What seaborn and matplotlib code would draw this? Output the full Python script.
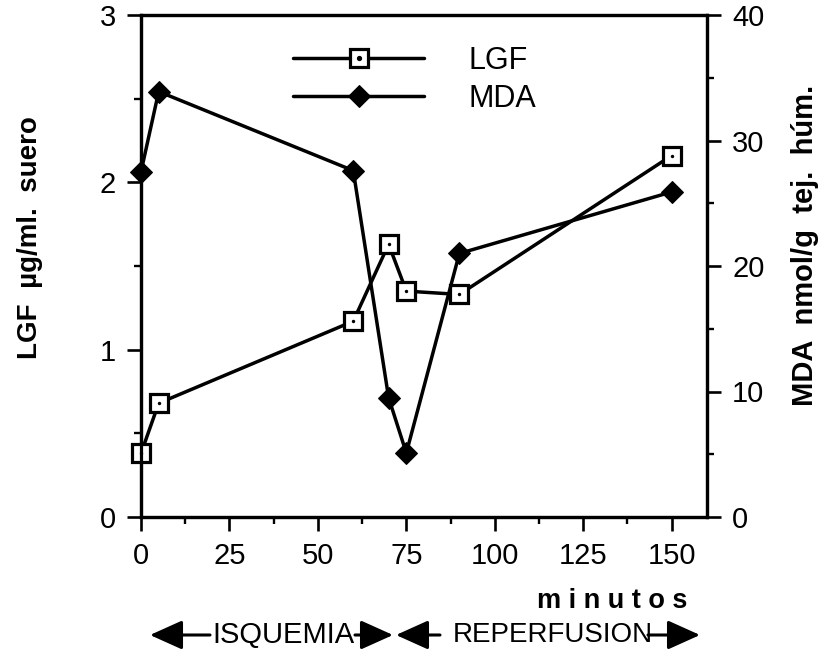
import numpy as np
import pandas as pd
import matplotlib
matplotlib.use("Agg")
import matplotlib.pyplot as plt
from matplotlib.ticker import MultipleLocator
from matplotlib.patches import FancyArrowPatch
import seaborn as sns

# Time points (minutes) and measured values
minutos = [0, 5, 60, 70, 75, 90, 150]
lgf = [0.38, 0.68, 1.17, 1.63, 1.35, 1.33, 2.16]      # µg/ml serum
mda = [27.5, 33.9, 27.6, 9.5, 5.1, 21.0, 25.9]        # nmol/g wet tissue

x_ticks = [0, 25, 50, 75, 100, 125, 150]
lgf_ticks = [0, 1, 2, 3]
mda_ticks = [0, 10, 20, 30, 40]

sns.set_theme(style="ticks")
plt.rcParams["font.family"] = ["Liberation Sans", "DejaVu Sans"]
for k in ("text.color", "axes.labelcolor", "xtick.color", "ytick.color",
          "axes.edgecolor"):
    plt.rcParams[k] = "black"

W, H = 834, 659
fig = plt.figure(figsize=(W / 100, H / 100), dpi=100)
ax = fig.add_axes([141 / W, (H - 517) / H, 566 / W, 502 / H])

df = pd.DataFrame({"minutos": minutos, "LGF": lgf, "MDA": mda})

sns.lineplot(data=df, x="minutos", y="LGF", ax=ax, color="black", lw=2.5,
             marker="s", markersize=13, markerfacecolor="white",
             markeredgecolor="black", markeredgewidth=2.3, zorder=3,
             clip_on=False)
sns.scatterplot(data=df, x="minutos", y="LGF", ax=ax, color="black",
                s=6, marker="o", linewidth=0, zorder=4, clip_on=False)

ax2 = ax.twinx()
sns.lineplot(data=df, x="minutos", y="MDA", ax=ax2, color="black", lw=2.5,
             marker="D", markersize=11, markerfacecolor="black",
             markeredgecolor="black", zorder=3, clip_on=False)

ax.set_xlim(0, 160)
ax.set_ylim(0, 3)
ax2.set_ylim(0, 40)

ax.set_xticks(x_ticks)
ax.set_yticks(lgf_ticks)
ax2.set_yticks(mda_ticks)
ax.xaxis.set_minor_locator(MultipleLocator(12.5))
ax.yaxis.set_minor_locator(MultipleLocator(0.5))
ax2.yaxis.set_minor_locator(MultipleLocator(5))

for a in (ax, ax2):
    a.set_xlabel("")
    a.set_ylabel("")
    for s in a.spines.values():
        s.set_linewidth(2.3)
        s.set_color("black")
        s.set_visible(True)
    a.tick_params(which="major", direction="out", length=10, width=1.9,
                  labelsize=21, pad=8, color="black", labelcolor="black")
    a.tick_params(which="minor", direction="out", length=5, width=1.7,
                  color="black")
ax.tick_params(axis="x", which="both", top=False)
ax2.tick_params(axis="y", which="both", left=False, right=True)

# Legend: open square with centre dot for LGF, filled diamond for MDA
l_line = ax.lines[0]
m_line = ax2.lines[0]
dot = plt.Line2D([], [], ls="none", marker="o", markersize=2.8, color="black")
leg = ax2.legend([(l_line, dot), m_line], ["LGF", "MDA"],
                 loc="upper left", bbox_to_anchor=(293 / W, 1 - 46 / H),
                 bbox_transform=fig.transFigure, frameon=False, fontsize=22,
                 handlelength=4.3, handletextpad=1.45, labelspacing=0.25,
                 borderpad=0, borderaxespad=0)

# Axis titles
fig.text(30 / W, 1 - 238 / H, "LGF  µg/ml.  suero", rotation=90,
         ha="center", va="center", fontsize=20, fontweight="bold")
fig.text(805 / W, 1 - 245 / H, "MDA  nmol/g  tej.  húm.", rotation=90,
         ha="center", va="center", fontsize=21, fontweight="bold")
fig.text(612 / W, 1 - 601 / H, "m i n u t o s", ha="center", va="center",
         fontsize=19.5, fontweight="bold")

# Phase indicators below the time axis
yb = 1 - 635 / H
def arrow(x0, x1):
    fig.add_artist(FancyArrowPatch((x0 / W, yb), (x1 / W, yb),
                                   transform=fig.transFigure,
                                   arrowstyle="-|>,head_length=1.0,head_width=0.45",
                                   mutation_scale=20, lw=2.2, color="black",
                                   shrinkA=0, shrinkB=0))

arrow(210, 150)
arrow(355, 393)
arrow(440, 396)
arrow(648, 700)
fig.text(283 / W, yb, "ISQUEMIA", ha="center", va="center", fontsize=21)
fig.text(553 / W, yb, "REPERFUSION", ha="center", va="center", fontsize=20)

fig.savefig("out.png", dpi=100)
